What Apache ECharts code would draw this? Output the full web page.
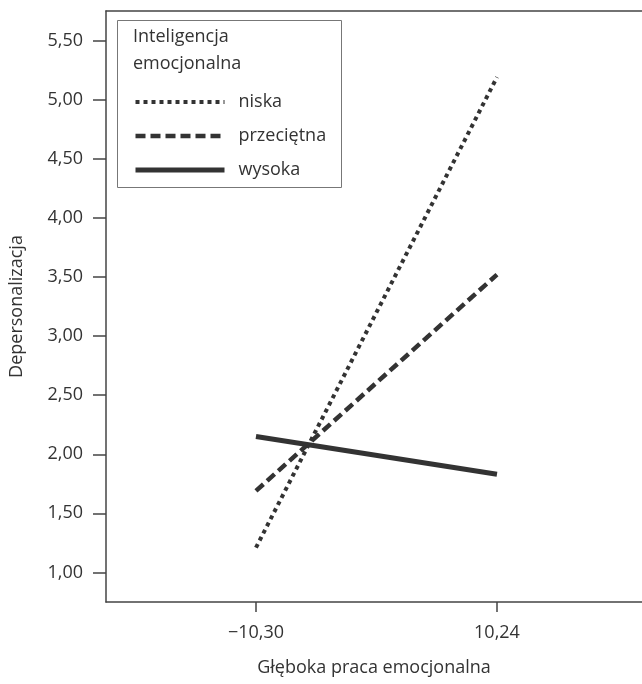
<!DOCTYPE html>
<html>
<head>
<meta charset="utf-8">
<script src="https://cdn.jsdelivr.net/npm/echarts@6/dist/echarts.min.js"></script>
<style>
  html, body { margin: 0; padding: 0; background: #fff; }
  #chart { width: 642px; height: 684px; }
</style>
</head>
<body>
<div id="chart"></div>
<script>
// dane
var xTicks = [-10.30, 10.24];
var yTicks = [1.0, 1.5, 2.0, 2.5, 3.0, 3.5, 4.0, 4.5, 5.0, 5.5];
var seriesNames = ['niska', 'przeciętna', 'wysoka'];
var niska = [1.21, 5.19];
var przecietna = [1.69, 3.52];
var wysoka = [2.15, 1.83];

var FONT = 'Open Sans';
var FS = 18;
var lineColor = '#333333';

// style linii: kropki, kreski, ciągła
var styles = [
  { color: lineColor, width: 4, type: [4, 4] },
  { color: lineColor, width: 4.5, type: [10, 5] },
  { color: lineColor, width: 5, type: 'solid' }
];

function fmt(v) {
  return v.toFixed(2).replace('.', ',').replace('-', '\u2212');
}

function pairs(vals) {
  var out = [];
  for (var i = 0; i < xTicks.length; i++) {
    out.push([xTicks[i], vals[i]]);
  }
  return out;
}

var chart = echarts.init(document.getElementById('chart'));

var xMin = -23.08, xMax = 22.60;
var seriesData = [niska, przecietna, wysoka];

var legendData = [];
var series = [];
for (var i = 0; i < seriesNames.length; i++) {
  legendData.push({
    name: seriesNames[i],
    itemStyle: { color: 'transparent', borderWidth: 0, opacity: 0 },
    lineStyle: styles[i]
  });
  series.push({
    name: seriesNames[i],
    type: 'line',
    symbol: 'none',
    data: pairs(seriesData[i]),
    lineStyle: styles[i],
    itemStyle: { color: lineColor }
  });
}

var axisCol = '#444';

var option = {
  animation: false,
  textStyle: { fontFamily: FONT },
  grid: { left: 106, top: 11, right: 0, bottom: 82, outerBoundsMode: 'none', containLabel: false },
  title: {
    text: 'Inteligencja\nemocjonalna',
    left: 128,
    top: 18,
    textStyle: { fontFamily: FONT, fontSize: FS, fontWeight: 'normal', color: '#333', lineHeight: 27 }
  },
  graphic: [{
    type: 'rect',
    shape: { x: 117.5, y: 20.5, width: 224, height: 167 },
    style: { fill: 'none', stroke: '#777', lineWidth: 1 },
    z: 1
  }],
  legend: {
    orient: 'vertical',
    left: 133,
    top: 93,
    padding: 0,
    itemWidth: 89,
    itemHeight: 14,
    itemGap: 16,
    data: legendData,
    textStyle: { fontFamily: FONT, fontSize: FS, color: '#333', padding: [0, 0, 0, 9] }
  },
  xAxis: [{
    type: 'value',
    min: xMin,
    max: xMax,
    name: 'Głęboka praca emocjonalna',
    nameLocation: 'middle',
    nameGap: 57,
    nameTextStyle: { fontFamily: FONT, fontSize: FS, color: '#333' },
    splitLine: { show: false },
    axisLine: { show: true, onZero: false, lineStyle: { color: axisCol, width: 1.5 } },
    axisTick: { show: true, length: 10, customValues: xTicks, lineStyle: { color: axisCol, width: 1.5 } },
    axisLabel: { customValues: xTicks, formatter: fmt, fontSize: FS, color: '#333', margin: 22 }
  }, {
    type: 'value',
    position: 'top',
    min: xMin,
    max: xMax,
    splitLine: { show: false },
    axisLine: { show: true, onZero: false, lineStyle: { color: axisCol, width: 1.5 } },
    axisTick: { show: false },
    axisLabel: { show: false }
  }],
  yAxis: {
    type: 'value',
    min: 0.75,
    max: 5.75,
    name: 'Depersonalizacja',
    nameLocation: 'middle',
    nameGap: 80,
    nameTextStyle: { fontFamily: FONT, fontSize: FS, color: '#333' },
    splitLine: { show: false },
    axisLine: { show: true, onZero: false, lineStyle: { color: axisCol, width: 1.5 } },
    axisTick: { show: true, length: 13, customValues: yTicks, lineStyle: { color: axisCol, width: 1.5 } },
    axisLabel: { customValues: yTicks, formatter: fmt, fontSize: FS, color: '#333', margin: 23 }
  },
  series: series
};

chart.setOption(option);
</script>
</body>
</html>
